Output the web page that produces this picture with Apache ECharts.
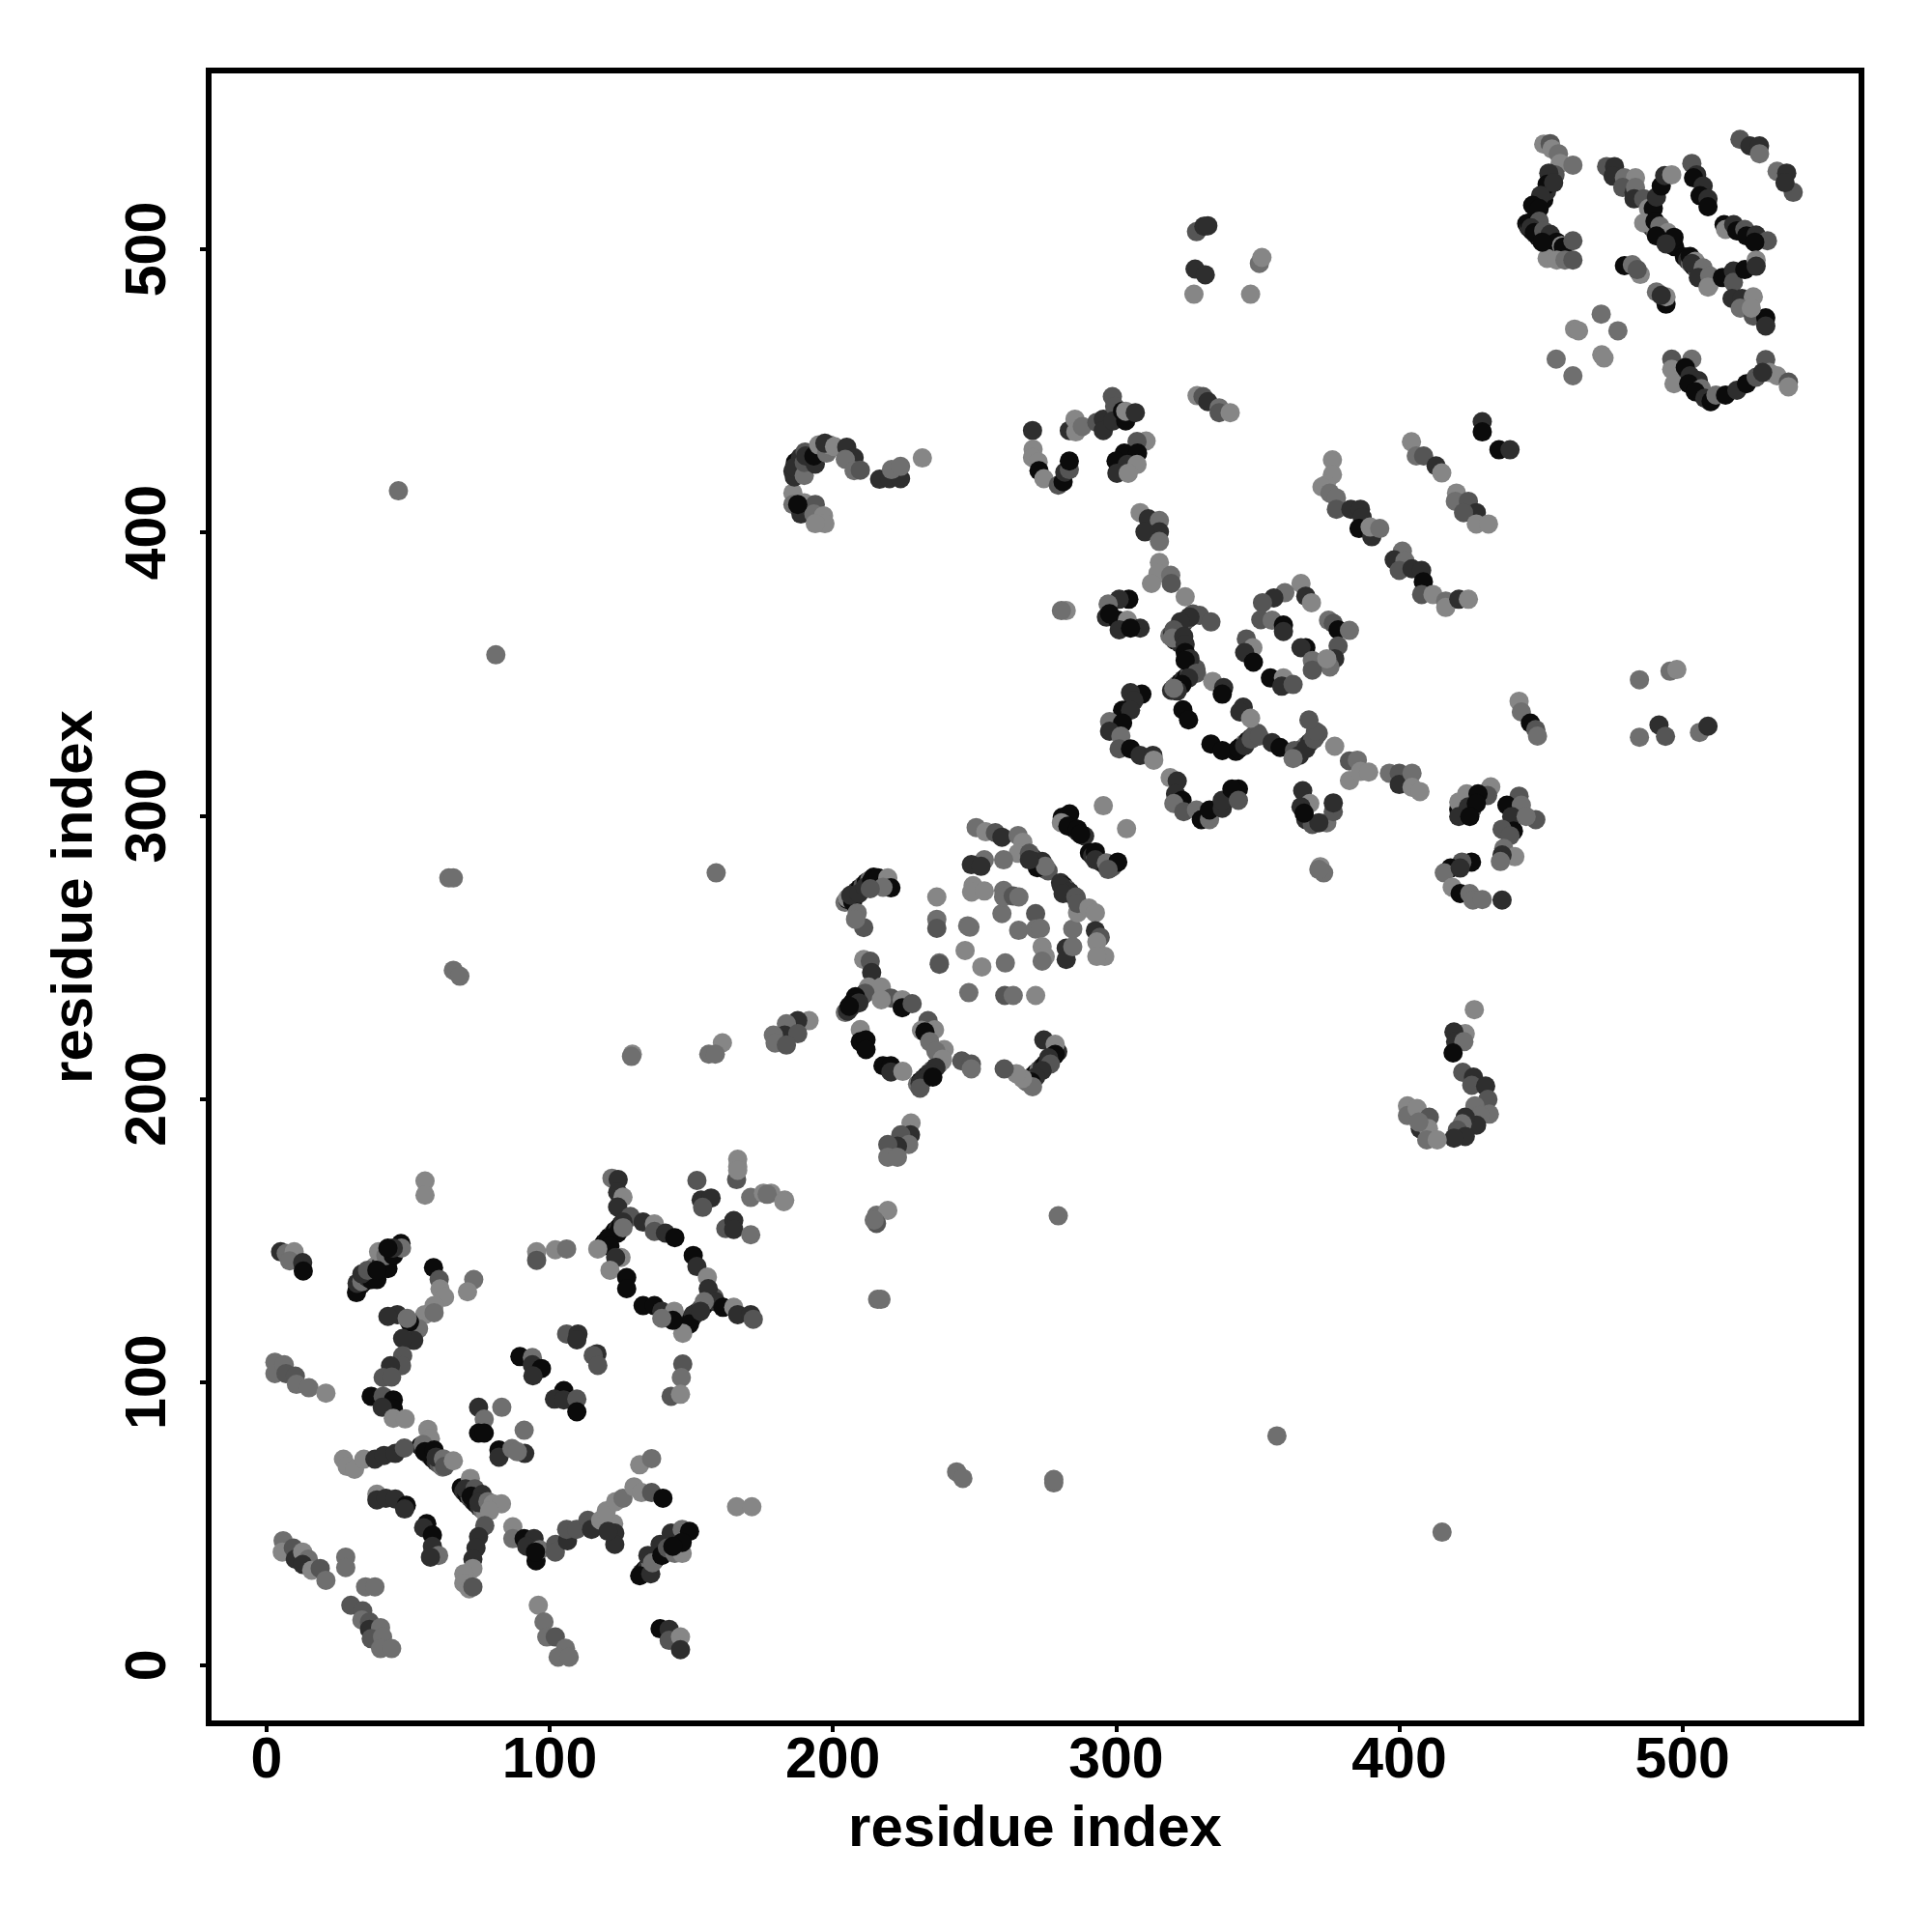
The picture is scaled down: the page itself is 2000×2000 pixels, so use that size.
<!DOCTYPE html>
<html><head><meta charset="utf-8">
<style>html,body{margin:0;padding:0;background:#fff}#c{width:2000px;height:2000px}</style>
<script src="https://cdn.jsdelivr.net/npm/echarts@6/dist/echarts.min.js"></script>
</head><body><div id="c"></div>
<script>
// Each contact: [residue i, residue j, distance level 0 (closest, black) .. 4 (farthest, light grey)]
const tickValues = [0,100,200,300,400,500];
const axisTitle = 'residue index';
const grayLevels = ['#0b0b0b','#2e2e2e','#555555','#6f6f6f','#868686'];

const packedRuns = [[118.6,147.9,3],[119.3,149.2,0],[120.4,150.1,1],[121.2,151.3,0],[122.3,152.2,2],[123.1,153.4,0],[124.2,154.3,1],[125.1,155.4,0],[126.2,156.4,1],[127.1,157.5,2],[128.3,158.2,3],
[147.2,120.1,3],[148.4,120.7,0],[149.3,122,1],[150.4,122.9,0],[151.3,124,1],[152.4,124.9,0],[153.4,126,2],[154.5,127,1],[155.4,128,0],[156.5,129,1],[158,130,2],
[32.2,133.2,0],[33.3,134.3,1],[34.5,135.4,0],[35.6,136.3,2],[36.7,137.4,1],[37.9,138.3,0],[38.8,139.6,3],[40,140.6,0],[41.1,141.7,1],[42.2,142.6,0],[43.2,143.7,2],[44.3,144.8,0],[45.4,145.9,1],[46.4,147,0],
[132.5,32.6,1],[133.6,33.7,0],[134.6,34.8,1],[135.7,35.9,3],[136.8,36.9,0],[137.9,38.1,1],[139,39.3,4],[140.1,40.2,0],[141.2,41.4,1],[142.3,42.5,0],[143.4,43.5,3],[144.5,44.6,0],[145.6,45.8,1],[147,46.8,0],
[54.4,77.4,0],[55.4,76.2,1],[56.5,75.2,0],[57.6,74.1,3],[58.7,73,0],[59.9,71.9,1],[61,71,2],[62.2,70,3],
[68.8,62.7,0],[69.7,61.4,1],[70.8,60.2,0],[71.9,59.2,2],[73,58,1],[74,57,0],[75.2,55.8,1],[76.3,54.9,3],[77.3,53.9,4],
[204.3,269.4,3],[205.3,270.4,0],[206.4,271.3,1],[207.4,272.4,0],[208.5,273.4,1],[209.6,274.4,0],[210.7,275.4,2],[211.8,276.4,0],[212.9,277.2,3],[214.4,278.3,0],[215.8,277.3,2],
[204.4,230.5,3],[205.4,231.5,0],[206.4,232.5,1],[207.5,233.6,0],[208.6,234.6,1],[209.6,235.7,0],[210.7,236.7,2],[211.8,237.8,1],[212.9,238.8,3],
[229.9,205.2,3],[231,206.2,0],[232.1,207.2,1],[233.1,208.2,0],[234.2,209.3,1],[235.3,210.3,2],[236.4,211.3,1],[237.5,212.4,3],[238.6,213.4,4],
[268.4,206,3],[269.5,207,0],[270.6,208.1,1],[271.7,209.1,0],[272.8,210.2,3],[273.9,211.2,1],[275,212.3,0],[276.1,213.3,1],[277.2,214.4,3],[278.3,215.4,0],[279.4,216.6,1],
[281,299.4,0],[282.2,298.4,1],[283.3,297.3,0],[284.4,296.2,3],[285.5,295.2,0],[286.6,294.2,1],[287.8,293.2,0],[288.9,292.8,1],
[290.6,286.9,0],[291.7,285.8,1],[292.8,285,4],[294,284,2],[295.2,283.3,1],[296.4,282.6,0],[298.6,281.8,2],
[268.4,287.1,0],[269.5,286.1,1],[270.6,285.1,0],[271.7,284.1,2],[272.8,283,0],[273.9,282,1],[275,281.1,0],[276,280.5,2],
[280.4,276.3,1],[281.5,275.2,0],[282.6,274,2],[283.7,272.9,1],[284.8,271.8,3],[286,270.7,2],
[319,363.5,3],[320,364.4,1],[321,365.4,2],[322,366.4,1],[323,367.4,3],[324,368.4,1],[325,369.3,2],[326,370.3,1],[327.1,371.2,2],[320.7,362,0],[322.6,360.8,1],
[319.6,344.2,1],[320.7,345.2,0],[321.7,346.2,3],[322.8,347.1,0],[323.8,348.1,1],[324.9,349,0],[325.9,350,2],[327,351,1],[328.2,351.9,2],
[342.3,322.7,0],[343.4,323.7,1],[344.4,324.6,0],[345.5,325.6,3],[346.6,326.5,0],[347.7,327.5,1],[348.8,328.5,2],[350,329.1,2],
[362.8,320.5,3],[363.9,321.6,1],[365,322.6,2],[366.1,323.7,0],[367.2,324.8,3],[368.3,325.8,1],[369.4,326.9,2],[370.5,328,1],[371.4,329.1,2],
[445,509,0],[445.8,507.6,1],[446.9,506.5,0],[448,505.4,2],[449.1,504.3,0],[450.2,503.2,1],[451.3,502.4,3],[452.4,501.6,0],[453.6,500.9,1],[455.4,500.2,0],[457.2,499.8,2],
[488.3,508.6,0],[489.4,507.5,1],[490.5,506.5,3],[491.6,505.5,0],[492.7,504.5,2],[493.8,503.5,1],[494.9,502.5,0],[496,501.6,1],[497.2,500.9,0],
[500.7,497.3,0],[501.8,496.2,1],[502.9,495,3],[504,493.9,0],[505.1,492.7,2],[506.2,491.6,0],[507.3,490.3,3],[508.4,489.2,1],[509.4,487.4,4],
[500.4,455,0],[501.5,454,1],[502.6,453,0],[503.7,451.9,2],[504.8,450.8,0],[505.9,449.8,1],[507,448.7,3],[508.1,447.6,0],[509.8,446.2,1],
[185.9,421.6,1],[186.8,424.8,0],[188.6,426.6,1],[190.2,428.4,2],[421,302.2,0],[423,301.4,1],[425.6,302,2],[451,517.4,0],[452,520.5,1],[448.7,511.9,1]];

const lowLeft = [[5,146,1],[7,145.4,3],[9.8,146,4],[8.2,142.8,3],[12.8,142.2,1],[13,139.2,0],
[31.8,131.6,0],[32,134.9,1],[33.7,135.5,3],[35.7,136.9,1],[37,136.2,0],[39,136.2,0],[38.3,140.8,4],[40.3,141.4,1],[42.9,140.1,0],[39.6,146,4],[42.2,144.7,3],[44.8,144.7,0],[47.5,148.9,0],[47.7,147.3,3],[44.8,147.3,1],[42.9,147.3,0],[33.7,138.2,1],[35.7,139.5,2],[39,139.5,0],
[59,140.4,0],[61,136.2,2],[61.3,132.9,4],[62.9,130,4],[73.2,136.2,3],[71,131.9,4],[59.2,127,4],[55.9,123.8,4],[59.2,124.5,3],[53.7,118.8,3],[50.5,121.2,0],[46.2,123.8,1],[42.9,123.2,1],[49.7,122.5,3],[52,114.7,1],[48.1,115.4,1],[48.1,109.3,2],[47.7,105.8,2],[43.8,105.8,1],[41.2,101.6,2],[44.2,101.8,2],[37,95,0],[41.2,95,2],[44.8,93.7,0],[44.8,90.5,0],[40.9,91.1,1],[44.8,87.2,4],[49,87,4],
[3,107,3],[3,103,3],[6.3,106.1,3],[6.9,103,2],[10.2,102.1,2],[10.6,99.2,3],[15,98,3],[21,96.1,4]];

const lowCenter = [[89.5,109,0],[93.9,108.7,3],[93.9,106.1,1],[97.1,104.8,0],[94.1,102.2,1],[106,117,2],[110,117,1],[109.6,114.9,1],[116.7,110,1],[115.4,109.4,2],[117,105.9,2],[105,97,0],[101.7,94,1],[105,93.7,1],[109.6,94,2],[109.6,89.5,0],
[74.9,91.1,1],[76.9,86.9,3],[74.9,82,0],[76.9,82,0],[83.1,91.1,3],[91,83,3],[82.1,76,0],[82.1,73.5,1],[86.7,76.5,3],[91.2,74.8,1],[88.6,75.4,3],
[27.2,72.8,4],[28.5,70.2,4],[31.1,69.2,4],[34.4,72.8,4],[38.3,72.8,1],[41.5,74.1,1],[45.5,74.8,1],[48.7,76.7,2],[57,83.3,4],[57.9,80,4],[55.3,78,3],[55.9,75.4,0],[59.2,76,0],[59.9,73.5,1],[62.5,72.9,3],[62.9,70.2,2],[66,72.2,4]];

const lowBottom = [[72,66,4],[70.3,62.3,1],[73.6,62.3,2],[72.3,59.7,0],[76.2,60.3,1],[75,57.4,1],[78.2,57.8,3],[80,57,4],[83,57,4],[78.8,54.5,4],
[39,60.4,4],[39,58.4,1],[42.2,59,1],[45.5,58.7,1],[49.4,56.5,0],[48.8,55.2,1],[56.6,50,0],[55.5,48.6,1],[58.6,46,0],[58.6,42,1],[60.8,38.8,3],[57.9,38.2,1],
[77.1,49.3,2],[74.9,45.4,1],[74,41.4,1],[72.9,37.5,1],[72.9,34.2,4],[69.7,32.3,4],[69.7,29,4],[71.6,27,4],[72.9,27.7,2],
[87,48.9,4],[87,44.7,3],[91,44.7,0],[94.5,44.7,1],[91.9,42,1],[95.2,36.9,0],[96.5,40.8,3],[95,40,0],[102.1,42.7,2],[102,40,2],[106.3,44,1],[106,48,2],[109.5,48,2],[113.5,51.2,2],[114.8,48,1],[118,51.2,4],[122.6,50,4],[123,46.7,1],[123,42.7,1],[120.6,47.3,1],[120,54.5,4],[123.3,57.8,4],[125.9,59,3],[129.8,63,4],[132.4,61,4],[136,61,2],[140,59,0],[131.8,70.8,4],[136,73,3],
[131.8,31.6,0],[135.7,32.3,1],[134.7,38.8,1],[136.3,36.2,3],[139,42.7,1],[139.6,38.8,0],[142.9,46.7,1],[141.6,41.4,2],[144.2,39.5,3],[146.8,39.5,4],[146.8,48,3],[149.4,47.3,0],[146.8,43.4,0],[143.5,42,0],
[5.9,44,3],[5.6,40,4],[9.5,41.4,2],[10.2,37.5,1],[12.8,40,4],[14.8,37.5,3],[12.8,35.6,1],[16,33.6,4],[19,34.2,2],[21,30,3],[28,38.2,3],[28,34.5,3],[35,27.7,3],[38.3,27.7,3],
[29.8,21.2,2],[34,19.2,2],[33.7,16,3],[36.4,15.3,2],[36.4,12.7,1],[40.3,13.3,3],[37,9.4,2],[41,10,3],[40.3,5.9,3],[44.2,5.9,3],
[96,21.2,4],[98,15.3,3],[99,10,3],[102,10,2],[105.6,6,3],[103,2.9,3],[106.9,2.9,3],
[139,12.9,0],[142.2,12.7,1],[142.2,8.8,2],[146.2,10,4],[146.2,5.5,1],[166,56,4],[171.4,56,4]];

const hexagon = [[122,172,3],[124.2,171.5,1],[124,167,1],[125.9,165.3,4],[124,161.8,1],[128.5,158.5,2],[125.9,156.5,1],[124,152.6,0],[120.6,150.6,0],[121.3,148,0],[125.9,154.5,3],[117,147,4],[133,156.5,1],[137,155.8,4],[137,153.2,2],[140.9,152.6,1],[144.2,151,0],[125.2,144,4],[123.3,144,1],[121.3,139.5,4],[127.2,136.9,0],[127.2,133,0],
[150.7,144.7,0],[152,140.8,1],[155.7,137.1,4],[156,133,1],[158.6,128.4,1],[154.6,128.4,3],[150.7,123.8,1],[149.4,120.5,0],[147,117.2,4],[153.3,125,1],[133,127,0],[137,127,0],[139.6,125,1],[144,125,4],[143.5,121.8,0],[139.6,122.5,3],[161.2,126.4,0],[165,126.4,4],[166.4,123.8,1],[171,123.8,1],[171.9,122.2,2],
[147,106.4,2],[146.5,101.6,3],[142.9,95,2],[146.2,95.7,4],[95.4,146,4],[95.4,143,2],[102,146.7,4],[106,147,3],
[152,171.2,2],[153.5,164.3,1],[157,165,1],[154,161.7,2],[166.4,176,4],[166,171.5,2],[171,165.2,3],[175.5,166.7,4],[178.2,166.7,4],[183,164.3,4],[162.2,154.2,2],[165,157,1],[165,153.9,1],[171,152,3],[166.4,178.7,4],[166.4,174.8,4],[56,171,4],[56,166,4]];

const midBlock = [[191.6,227.6,4],[187.6,227.6,1],[183.6,226.5,3],[183,222.5,1],[187.6,223,2],[179,222.5,3],[179.6,219.7,3],[183.6,219,2],[176.8,166.3,3],[182.7,163.7,4],
[215.4,158.9,3],[219.4,160.6,4],[215.4,156,2],[214.6,157.2,3],[279.6,158.7,3],
[227.6,191.5,4],[227.4,187.3,1],[224,187.3,2],[226.8,183.9,3],[222.8,183.3,1],[219.4,183.9,2],[219.4,179.4,3],[222.8,179.4,3],
[205.2,270.8,4],[207,269.6,0],[206.3,271.9,1],[209.2,272.5,1],[211.4,274.7,1],[213.7,277,0],[216,278,0],[219.4,278,4],[220.5,274.5,0],[217.7,274.7,3],[213.2,274.2,2],[208.6,265.7,3],[210.9,260.5,2],[208,263.4,3],
[210.9,249.2,4],[213.2,248.6,2],[213.7,244.6,1],[212.6,239.5,4],[217.1,239.5,4],[211.4,237.3,2],[208,236.1,0],[206.9,233.9,0],[205.2,231,1],[209.2,233.9,1],[205.8,232.7,0],[220.5,235.6,2],[224.5,235,4],[224.5,232.2,0],[228,233.6,2],[217.1,235,4],
[209.7,224.5,4],[209.7,220.2,0],[211.7,220.8,0],[211.7,217.4,0],[217.7,211.7,0],[220.5,211.7,0],[220.5,209.5,1],[224.7,209.7,4],
[233.6,227.6,2],[231.3,224.2,4],[235.9,224.4,4],[232.5,223.6,0],[234.2,220.2,3],[239.3,217.4,4],[236.4,216.8,3],[238.7,214,4],[245.5,213.4,2],[248.9,212.3,2],[248.9,210.6,3],[236.4,211.1,1],[234.2,208.9,1],[232.5,207.2,1],[230.8,205.5,1],[230.8,203.8,2],[235.3,207.7,0],
[274.5,220.8,1],[278.5,219.3,4],[278.5,215.7,0],[276.2,214.5,1],[276.8,212.3,2],[273.9,210,1],[271.6,207.7,1],[270,206,0],[270.5,204.3,3],[267,207.2,4],[264.8,208.9,4],[260.5,210.6,2]];

const looseGrid = [[236.7,271.3,4],[236.7,263.4,3],[236.7,260.2,2],[247.6,261.1,3],[248.4,260.6,3],[246.7,252.4,4],[252.6,246.6,4],[237.6,248,3],[237.6,247.5,2],[260.9,248,3],[248,237.5,3],[260.7,236.5,2],[263.7,236.5,3],[271.6,236.5,4],
[259.7,265.4,3],[265.6,259.5,3],[271.6,265.4,2],[271.6,260,3],[273.3,260.2,3],[284.7,260,3],[286.4,265.7,4],[273.9,253.7,4],[275,250.3,4],[273.9,248.6,3],[282.4,253.2,1],[282.4,249.2,1],[284.7,253.7,3],
[250.6,295.8,3],[254,294.3,4],[257.4,294,2],[259.7,292.4,1],[265.4,293,3],[267.1,290.6,4],[265.4,286.7,4],[260.3,284.4,3],[253.5,284.4,3],[248.9,282.7,1],[252.3,282.1,1],[249.5,275.3,4],[249,273,4],[253.5,273.4,4],[260.3,273.6,3],[260.3,271.3,3],[263.7,271.6,2],[265.7,271.3,3],[269.4,286.7,2],[271.1,283.8,1],[273.9,283.8,1],[272.2,281.6,0],[275,282.1,3],[269.4,284.4,1],
[280.7,275.3,1],[283.6,273,1],[281.3,272.5,1],[285.8,271.3,2],[286.4,269,2],[290.4,267.4,4],[292.7,265.7,4],[292.7,259.4,1],[294.4,257.1,2],[293.2,255.4,4],[296,250.3,4],[293.2,250.3,4],
[283.6,300.6,0],[280.7,297.5,4],[283,296.3,0],[286.4,295.2,0],[287.5,293.5,0],[292.7,287.2,0],[292.7,284.4,1],[296.6,283.3,3],[300.6,283.6,0],[297.2,281,2],[295.5,303.5,4],[303.7,295.4,4]];

const rings = [[308.5,407,4],[311.4,404.8,1],[315.3,404.2,3],[315.3,400.2,1],[310.2,400.2,1],[315.3,396.8,3],[315.3,389.4,4],[314.8,385.5,4],[312.5,382,4],[319.3,384.9,3],[319.5,382,2],[324.4,377.3,4],
[304.5,376.4,0],[301.1,376.4,1],[297.2,374.7,3],[296.6,370.1,1],[300.6,369,0],[297.7,371.3,0],[304,369,4],[301.1,365.6,1],[308.5,366.2,1],[305.1,366.2,0],[282.4,372.4,4],[280.7,372.4,3],
[329.5,370.7,2],[333.5,368.4,2],[326.1,370.1,1],[322.7,368.4,1],[320.4,365.6,2],[319.9,362.7,3],[323.9,363.3,1],[324.4,360.5,1],[324.4,357.6,0],[326.1,355.4,1],[324.4,354.8,0],[328.4,350.3,2],[325.6,348.6,1],[323.3,346.3,0],[321.6,344,1],[320.4,345,3],[323.6,337.4,0],[325.6,333.8,0],
[334.1,347.4,4],[338,345.2,1],[337.5,342.9,0],[344.9,338.3,1],[343.7,336.6,1],[347.5,334.4,4],
[333.5,325.3,0],[337.5,323,0],[343.2,323.6,0],[345.4,324.7,1],[347.7,327,2],[350.5,328.1,2],[355.1,325.8,1],[357.9,324.1,0],[363,323,2],[364.7,321.3,1],[367,323.6,1],[369.9,327,2],[370.4,329.8,2],[368.1,333.8,2],[362.5,320.2,3],
[377.2,324.5,4],[382.4,319.3,2],[385.2,319.6,3],[382.4,312.4,4],[386.3,315.6,4],[389.2,315.4,4],[396.5,315,3],[400,315,2],[400,311,1],[404.5,315,3],[404.5,310,4],[407.3,308.5,4],
[309.1,342.9,0],[305.1,343.4,1],[306.3,340.6,1],[302.3,337.2,0],[305.1,337.2,1],[297.7,333.2,3],[302.3,332.7,0],[297.7,329.8,1],[301.7,328.1,3],[301.1,323.6,2],[305.1,323.6,0],[308.5,321.3,1],[313,321.3,1],[313.3,319.6,4],
[319.1,313.4,4],[321.6,312.2,1],[321,307.7,1],[323.3,305.4,0],[320.4,304.3,3],[323.9,301.4,2],[328.4,302,3],[330.1,298.6,0],[333,298.6,3],[333,302,0],[337.5,302.6,1],[337.5,305.4,1],[343.2,309.4,0],[340.9,309.4,0],[343.2,305.4,2],
[365.3,382,4],[359.6,378.7,3],[355.7,376.9,1],[351.7,375.2,2],[367,377.5,1],[369,375.2,4],[351.1,369.2,2],[355.1,369,3],[359.1,367.3,0],[359.1,365,1],[346,362.4,2],[348.3,359.3,4],[345.4,357.6,1],[348.5,354.2,0],[354.5,348.6,0],[359.1,348.6,4],[358.5,345.7,1],[362.5,346.3,2],
[375,369,3],[376.7,367.9,2],[378.4,365.6,0],[382.4,365.4,3],[378.4,359.9,2],[377.2,355.4,1],[375.5,352.5,3],[367,359.3,0],[365.3,359.3,1],[369.3,354.8,3],[369.3,351.4,2],[374.4,355.4,4]];

const stripes = [[376.4,425.6,4],[376.4,420.4,4],[374.2,416.9,4],[372.7,416.1,4],[375.5,413.9,3],[377.8,412.2,3],[377.8,408.2,2],[382.9,408.2,1],[386.3,408.2,1],[386.9,405.3,1],[385.8,401.4,0],[390.3,398.5,1],[389.7,401.9,4],[393.1,401.4,3],
[401.1,393.4,3],[398.2,390.3,1],[402,390,3],[400,386.6,2],[404.5,387.2,1],[407.9,386.6,1],[408.5,382.6,0],[407.9,378.1,2],[411.9,378.1,4],[416.4,375.8,3],[416.4,373.5,4],[421,376.4,1],[424.4,376.4,4],
[404.3,432,4],[406,427,3],[408.6,427,2],[413,423.5,1],[415,421,4],[420.2,413.9,4],[419.8,411,3],[424.4,411,2],[427.2,407,1],[422.7,407,2],[427.2,403,4],[431.5,403,4],
[429.3,439.1,1],[429.3,435.5,0],[435.2,429.2,0],[439.1,429.2,1],
[442.3,340.4,4],[443.1,336.6,3],[446.3,332.7,0],[448.2,330.4,2],[448.8,328.1,3],[372.1,282,4],[373.3,279.8,3],[371.6,281,3],
[365.9,308.8,1],[368.4,304.3,4],[365.3,303.1,1],[367,298.6,1],[369.3,296.9,2],[374.4,297.5,3],[376.7,301.4,2],[376.7,304.5,1],[371.6,297.5,1],[366.4,300.9,0]];

const rightMid = [[432.3,310.2,4],[431.2,307.1,2],[423.8,307.7,4],[427.8,307.7,0],[421,304.8,4],[421,299.7,1],[424.4,303.1,1],[427.2,304.3,0],[424.9,299.7,0],
[442.3,306.9,2],[438,303.7,0],[443.1,303.7,3],[439.7,299.7,1],[448.2,298.6,2],[444.8,299.7,3],[440.3,294.6,0],[436.3,295.2,2],[439.1,292.9,2],[436.9,288.4,3],[440.8,285.5,4],[436.3,286.1,1],[435.7,283.8,3],
[425.5,283.6,0],[422.1,283.6,2],[418.1,281.5,0],[415.9,279.8,3],[421.5,281.5,1],[418.7,274.7,4],[421.5,272.5,0],[424.9,272.5,3],[426,270.2,3],[429.3,270.4,3],[436.3,270.2,1],
[426.5,231.5,4],[423.3,223,4],[419.3,223.6,1],[419.9,220.2,1],[422.8,220.2,3],[419,216.2,0],[422.4,209.4,2],[426.2,207.7,1],[425.6,204.8,2],[430.5,204.5,1],[431.3,199.8,2],[426.7,197.5,3],[431.8,194.6,3],[428.4,194.1,3],[427.3,190.7,1],[423.3,193.5,1],[422.2,191.2,3],[420.5,189,2],[423.3,186.7,1],[419.3,186.1,1],
[402.9,197.5,4],[402.9,194.1,3],[406.3,196.6,4],[410.6,193.5,2],[407.4,189.5,1],[410.3,189.5,4],[409.7,185.5,3],[413.4,185.5,4],[406.9,191.8,3],
[484.8,348,3],[495.6,351,3],[498,351.6,4],[484.8,327.7,3],[491.7,332,1],[494,328,2],[506,329.4,3],[509,331.6,1]];

const topMiddle = [[185.9,413.9,4],[185.9,409.9,3],[189.9,410.5,4],[193.8,409.9,2],[188.7,406.5,1],[193.3,406.5,3],[196.7,405.9,4],[197.2,403.1,4],[193.8,403.1,4],[187.6,409.9,0],
[186.4,419.6,1],[186.4,423,1],[189.9,420.1,3],[189.9,424.7,2],[190.4,427,1],[193.8,424.1,1],[193.3,427,0],[195,430.9,4],[197.8,428,3],[198.9,430.9,4],[197.2,431.5,1],[200.6,430.3,4],[204.9,430.1,1],[207.5,426.4,1],[204.4,425.8,3],[207.5,421.8,3],[209.7,422,2],
[216.5,418.8,1],[220,419,1],[223.9,419,1],[220.7,422.2,3],[223.9,423.3,3],[231.6,426.3,4],
[270.5,436,1],[270.7,429.4,4],[270.5,426.4,4],[272.5,424.9,4],[272.8,421.8,0],[274.5,419,4],[279.6,416.7,2],[281.3,417.9,0],[281.9,421.3,1],[283.5,422.2,2],[283.5,425.2,0],
[283.5,436,1],[285.5,440,4],[285.8,435.5,4],[288.1,437.4,3],[293.2,438.9,2],[295.5,440,1],[295.5,436,1],[298.7,448,2],[299.5,444.5,2],[298.9,439.4,1],[302.3,442.8,0],[303.4,439.4,0],[303.4,442.8,4],[306.8,442.3,1],
[310.6,432.3,4],[307.4,432.1,2],[302.9,428,0],[307.6,428,0],[300,425.2,0],[304,424,1],[307.4,424,4],[300.3,420.9,1],[304.3,420.9,4],
[328.6,448.3,4],[330.7,448,2],[332.4,446.2,1],[336.4,444,3],[336.4,442.3,2],[340.3,442.3,4],
[328.4,506.2,2],[331,508.1,1],[332.4,508.3,1],[327.9,493,1],[331.5,491,1],[327.5,484.1,4],[347.5,484.1,4],[350.6,495,3],[351.5,497.1,4]];

const topRight = [[451,537.1,4],[453.3,537.3,2],[453.9,535.4,4],[456.2,533.7,3],[456.8,530.3,4],[461.3,529.7,3],[455,526.3,2],[452.8,526.9,1],[452.2,522.9,0],[454.5,523.5,1],[449.9,519,1],[448.2,514.4,1],[447.1,515.5,0],[449.4,514.4,0],[446,509.3,0],[449.4,509.9,2],[446.5,507.6,1],[447.7,505.9,0],[451,506.5,2],[453.3,505.3,1],[455.6,502.5,0],[457.3,501.3,4],[457.9,500.8,0],[461.3,503,2],[452.2,496.8,4],[455.6,496.2,4],[458.5,496.2,3],[461.3,496.2,2],[450.5,502.5,0],
[473.2,529.2,2],[476,529.2,1],[475.5,525.8,1],[479.5,525.2,3],[483.4,525.2,4],[478.9,521.8,2],[482.9,520,1],[483.4,521.8,3],[482.9,517.8,1],[486.3,517.8,2],[488,514.4,4],[489.7,514.4,0],[490.8,518.4,1],[492.5,522.3,0],[493.7,526,1],[496.2,526.3,4],[486.3,509.3,4],[490.3,509.9,0],[492,508.2,3],[494.8,505.9,4],[497,504.2,0],[490.8,504.7,0],[494.2,501.9,1],
[503.3,530.3,2],[505,526.3,1],[503.9,525.2,0],[507.3,522.3,1],[506.2,518.9,0],[509,517.8,1],[509,515,0],
[520.3,538.8,2],[523.8,536.5,1],[527.2,536.5,1],[527.2,533.7,3],[533.4,527.5,3],[536.8,526.9,1],[539.1,520.1,2],[536.2,523.5,1],
[514.7,508.7,0],[515.2,507,4],[518.1,508.7,1],[519.2,506.5,0],[522,507,2],[522.6,504.7,0],[526,505,1],[530,503,2],[525.5,502.5,0],
[502.7,497.4,0],[504.5,495.7,4],[503.3,495,1],[507.3,493.4,3],[505.6,490,1],[509.6,490.6,3],[509,486.6,4],[514.1,490,0],[518,492.3,1],[518,488.3,2],[522,492.8,0],[526,496.2,4],[526,494,1],[517.5,482.6,1],[521,482.6,1],[525,483.2,4],[520.4,479.2,3],[525,476.4,2],[529.4,475.8,0],[529.4,472.9,1],[524.3,479.2,4],
[479.5,494.2,0],[482.3,494.5,3],[485.1,491.1,4],[484,492.8,2],[490.8,484.9,3],[494.2,480.6,0],[494.2,483.2,4],[492.5,483.7,1],
[471.3,477.1,3],[461.9,471.8,4],[463.3,471.2,4],[477.2,471.2,3],[455.4,461.2,3],[471.5,462.7,4],[472.3,461.6,4],[461.3,455.3,3],
[496.2,461.2,2],[503.3,461.2,3],[496.2,457.6,4],[497,452.5,4],[501,458.2,0],[502.7,455.3,1],[505.6,453.6,1],[502.2,452.5,0],[506.7,450.8,3],[504.5,449.7,0],[507.9,447.4,1],[510.1,446.3,0],[511.8,448.5,3],[515.2,448.5,0],[519.2,450.2,1],[522.6,452.5,0],[526,454.8,2],[529.4,461,2],[530.6,456.5,4],[533.4,455.3,4],[537.4,453.1,2],[537.4,451.4,4],[528.3,456.5,1]];

const strays = [[46.6,414.7,3],[81,356.8,3],[64.4,278,3],[66,278,3],[66,245.4,3],[68.3,243.3,3],[158.8,279.8,3],[129.2,215.8,4],[128.9,215,3],[156.2,215.8,3],[161,219.8,4],[158.5,215.8,3],[215.8,129.2,3],[217,129.2,3],[243.7,68.3,3],[245.9,66,3],[278,64.4,3],[278,65.6,3],[356.8,81,3],[415.1,47,3]];

// Paint order: packed runs underneath, then the clusters as listed.
const contacts = [].concat(packedRuns,lowLeft,lowCenter,lowBottom,hexagon,midBlock,looseGrid,rings,stripes,rightMid,topMiddle,topRight,strays);

const chart = echarts.init(document.getElementById('c'),null,{renderer:'canvas'});
const font = {fontFamily:'Liberation Sans',fontWeight:'bold',fontSize:59,color:'#000'};
const axisCommon = {
  type:'value',
  name:axisTitle,
  nameLocation:'middle',
  nameTextStyle:Object.assign({},font,{fontSize:60}),
  axisLine:{show:false,onZero:false},
  splitLine:{show:false},
  axisTick:{show:true,inside:false,length:9,lineStyle:{color:'#000',width:4},customValues:tickValues},
  axisLabel:Object.assign({},font,{customValues:tickValues,showMinLabel:true,showMaxLabel:true})
};
chart.setOption({
  animation:false,
  backgroundColor:'#fff',
  grid:{left:216,right:73,top:73,bottom:216,show:true,borderColor:'#000',borderWidth:6,backgroundColor:'#fff'},
  xAxis:Object.assign({},axisCommon,{min:-20.4,max:563.2,nameGap:80,
    axisLabel:Object.assign({},axisCommon.axisLabel,{margin:10})}),
  yAxis:Object.assign({},axisCommon,{min:-20.5,max:563.1,nameGap:108,
    axisLabel:Object.assign({},axisCommon.axisLabel,{rotate:90,margin:32})}),
  series:[{
    type:'scatter',
    symbol:'circle',
    symbolSize:20,
    clip:false,
    progressive:0,
    data:contacts,
    itemStyle:{opacity:1,color:p=>grayLevels[p.value[2]]}
  }]
});
</script></body></html>
